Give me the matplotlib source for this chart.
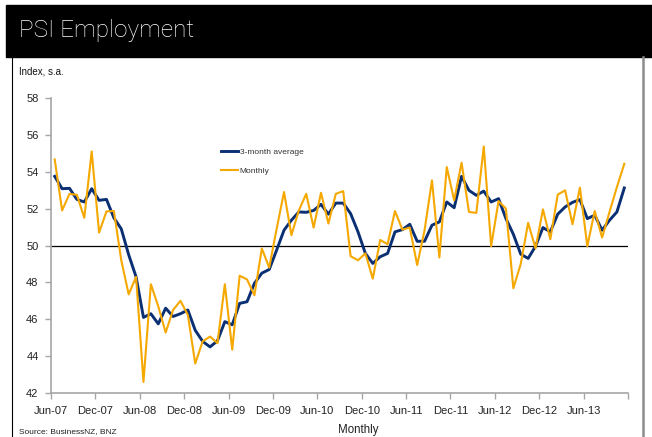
import matplotlib
matplotlib.use('Agg')
import matplotlib.pyplot as plt
from matplotlib.patches import Rectangle
from matplotlib.lines import Line2D

plt.rcParams['font.family'] = ['Liberation Sans', 'DejaVu Sans']

# monthly PSI employment index, Jun-07 .. Nov-13
monthly = [54.67, 51.9, 52.8, 52.75, 51.5, 55.1, 50.7, 51.85, 51.87, 49.2,
           47.35, 48.3, 42.6, 47.9, 46.7, 45.28, 46.5, 47.0, 46.23, 43.6,
           44.8, 45.06, 44.7, 47.9, 44.35, 48.36, 48.16, 47.3, 49.84, 48.8,
           50.9, 52.9, 50.56, 51.9, 52.8, 50.97, 52.86, 51.19, 52.8, 52.95,
           49.42, 49.2, 49.57, 48.2, 50.3, 50.07, 51.87, 50.86, 50.97, 48.94,
           50.83, 53.53, 49.35, 54.25, 52.45, 54.49, 51.82, 51.77, 55.37, 49.96,
           52.41, 52.0, 47.68, 49.0, 51.23, 49.84, 51.96, 50.34, 52.76, 52.99,
           51.15, 53.14, 49.96, 51.87, 50.43, 51.82, 53.17, 54.43]
avg3 = [53.75, 53.08, 53.1, 52.5, 52.36, 53.08, 52.45, 52.5, 51.5, 50.9,
        49.5, 48.3, 46.1, 46.3, 45.75, 46.6, 46.15, 46.3, 46.5, 45.4,
        44.8, 44.5, 44.83, 45.87, 45.7, 46.86, 46.95, 47.95, 48.5, 48.7,
        49.75, 50.83, 51.37, 51.82, 51.8, 51.9, 52.23, 51.7, 52.3, 52.3,
        51.73, 50.74, 49.57, 49.03, 49.39, 49.57, 50.74, 50.86, 51.15, 50.23,
        50.23, 51.1, 51.28, 52.36, 52.05, 53.75, 52.99, 52.72, 52.95, 52.36,
        52.54, 51.46, 50.61, 49.53, 49.3, 49.96, 50.97, 50.74, 51.7, 52.09,
        52.34, 52.49, 51.46, 51.64, 50.83, 51.37, 51.82, 53.12]
tick_labels = ['Jun-07', 'Dec-07', 'Jun-08', 'Dec-08', 'Jun-09', 'Dec-09',
               'Jun-10', 'Dec-10', 'Jun-11', 'Dec-11', 'Jun-12', 'Dec-12',
               'Jun-13', '']
y_ticks = [42, 44, 46, 48, 50, 52, 54, 56, 58]

W, H = 652, 437
fig = plt.figure(figsize=(W / 100, H / 100), dpi=100)

# black header band and frame
fig.patches.append(Rectangle((6 / W, 1 - 57 / H), 1, 52 / H,
                             transform=fig.transFigure, color='black'))
fig.text(19 / W, 1 - 31 / H, 'PSI Employment', color='white', fontsize=17.5,
         va='center', ha='left', family=['Roboto', 'DejaVu Sans'],
         fontweight='light')
fig.lines.append(Line2D([11.7 / W, 11.7 / W], [0, 1 - 57 / H],
                        transform=fig.transFigure, color='black', lw=0.8))
fig.lines.append(Line2D([642.7 / W, 642.7 / W], [0, 1 - 57 / H],
                        transform=fig.transFigure, color='#8c8c8c', lw=1.8))

ax = fig.add_axes([51 / W, 1 - 393 / H, 577 / W, 295 / H])
x = [i + 0.5 for i in range(len(monthly))]

ax.axhline(50, color='black', lw=0.9, zorder=1)
ax.plot(x, avg3, color='#0a2f73', lw=2.1, label='3-month average', zorder=2)
ax.plot(x, monthly, color='#f5a800', lw=1.5, label='Monthly', zorder=3)

ax.set_xlim(0, 78)
ax.set_ylim(42, 58)
ax.set_xticks(range(0, 79, 6))
ax.set_xticklabels(tick_labels)
ax.set_yticks(y_ticks)

for s in ['top', 'right']:
    ax.spines[s].set_visible(False)
for s in ['left', 'bottom']:
    ax.spines[s].set_color('#a6a6a6')
    ax.spines[s].set_linewidth(1.2)
ax.tick_params(axis='both', colors='#a6a6a6', labelcolor='#222222',
               labelsize=8, length=4, width=1)
ax.tick_params(axis='y', pad=5)
ax.tick_params(axis='x', pad=5)

ax.legend(loc='upper left', bbox_to_anchor=((221 - 51) / 577, (393 - 148) / 295),
          frameon=False, fontsize=6, handlelength=2.0, handletextpad=0.25,
          labelspacing=1.4, borderaxespad=0, borderpad=0, labelcolor='#333333')

fig.text(19 / W, 1 - 71 / H, 'Index, s.a.', fontsize=7, va='center', color='#111111')
fig.text(19 / W, 1 - 431.5 / H, 'Source: BusinessNZ, BNZ', fontsize=6,
         va='center', color='#222222')
fig.text(358 / W, 1 - 429.5 / H, 'Monthly', fontsize=8.3, va='center',
         ha='center', color='#222222')

fig.savefig('out.png', dpi=100)
